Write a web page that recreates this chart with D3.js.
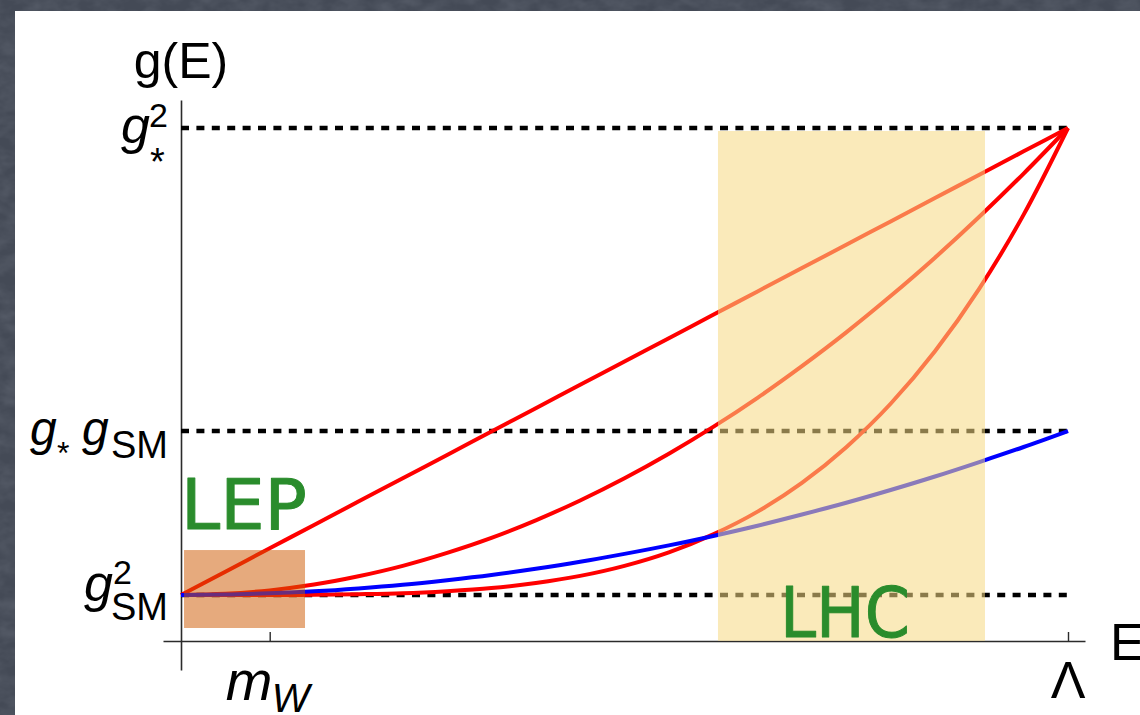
<!DOCTYPE html>
<html>
<head>
<meta charset="utf-8">
<script src="https://cdn.jsdelivr.net/npm/d3@7"></script>
<style>
  html, body { margin: 0; padding: 0; background: #474d58; overflow: hidden; }
  svg { display: block; }
</style>
</head>
<body>
<svg id="chart" width="1140" height="715"></svg>
<script>
// Energy in units of the cutoff Λ (m_W sits at 0.1 Λ)
const energy = [0, 0.05, 0.1, 0.15, 0.2, 0.25, 0.3, 0.35, 0.4, 0.45, 0.5,
                0.55, 0.6, 0.65, 0.7, 0.75, 0.8, 0.85, 0.9, 0.95, 1];

// Coupling strength g(E), in units where g_SM^2 = 1
const linearCoupling    = [1, 1.121, 1.242, 1.363, 1.484, 1.605, 1.726, 1.847, 1.968, 2.089, 2.21,
                           2.331, 2.452, 2.573, 2.694, 2.815, 2.936, 3.057, 3.178, 3.299, 3.42];
const quadraticCoupling = [1, 1.006, 1.024, 1.054, 1.097, 1.151, 1.218, 1.296, 1.387, 1.49, 1.605,
                           1.732, 1.871, 2.022, 2.186, 2.361, 2.549, 2.748, 2.96, 3.184, 3.42];
const quarticCoupling   = [1, 1.0, 1.0, 1.001, 1.004, 1.009, 1.02, 1.036, 1.062, 1.099, 1.151,
                           1.221, 1.314, 1.432, 1.581, 1.766, 1.991, 2.263, 2.588, 2.971, 3.42];
const smCoupling        = [1, 1.002, 1.009, 1.019, 1.034, 1.053, 1.077, 1.104, 1.136, 1.172, 1.213,
                           1.257, 1.306, 1.359, 1.417, 1.478, 1.544, 1.614, 1.689, 1.767, 1.85];

// Reference levels: g_*^2, g_* g_SM, g_SM^2
const yTicks = [3.42, 1.85, 1];
const xTicks = [0.1, 1];
const xTickLabels = ["m_W", "Λ"];

// Experimental reach (energy range, coupling range)
const lepBandE = [0.0034, 0.1398];
const lepBandG = [0.829, 1.233];
const lhcBandE = [0.6054, 0.9064];
const lhcBandG = [0.762, 3.4045];

const svg = d3.select("#chart");
const W = 1140, H = 715;

// --- slate backdrop with a faint grain, and the white slide panel ---
const defs = svg.append("defs");
const grain = defs.append("filter").attr("id", "grain")
  .attr("x", 0).attr("y", 0).attr("width", "100%").attr("height", "100%");
grain.append("feTurbulence").attr("type", "fractalNoise")
  .attr("baseFrequency", "0.05 0.08").attr("numOctaves", 3).attr("seed", 4);
grain.append("feColorMatrix").attr("type", "matrix")
  .attr("values", "0 0 0 0 0.6  0 0 0 0 0.64  0 0 0 0 0.72  0 0 0 0.2 -0.06");
svg.append("rect").attr("width", W).attr("height", H).attr("fill", "#444a56");
svg.append("rect").attr("width", W).attr("height", H).attr("filter", "url(#grain)");
svg.append("rect").attr("x", 15).attr("y", 11).attr("width", W - 15).attr("height", H - 11)
  .attr("fill", "#ffffff");

// --- scales ---
const x = d3.scaleLinear().domain([0, 1]).range([181, 1068]);
const y = d3.scaleLinear().domain([1, 3.42]).range([595, 128]);

const xAxisScale = d3.scaleLinear().domain([x.invert(163), x.invert(1085)]).range([163, 1085]);
const yAxisScale = d3.scaleLinear().domain([y.invert(670), y.invert(100)]).range([670, 100]);

const sans = "'Liberation Sans', Arial, Helvetica, sans-serif";

// --- axes ---
const xAxis = svg.append("g").attr("transform", "translate(0,641)")
  .call(d3.axisBottom(xAxisScale).tickValues(xTicks).tickSizeInner(-9).tickSizeOuter(0).tickFormat(""));
const yAxis = svg.append("g").attr("transform", "translate(181,0)")
  .call(d3.axisLeft(yAxisScale).tickValues(yTicks).tickSizeInner(-7).tickSizeOuter(0).tickFormat(""));
[xAxis, yAxis].forEach(a => {
  a.select(".domain").attr("stroke", "#2b2b2b").attr("stroke-width", 1.6);
  a.selectAll(".tick line").attr("stroke", "#2b2b2b").attr("stroke-width", 1.4);
});

// --- dotted reference levels ---
svg.append("g").selectAll("line").data(yTicks).join("line")
  .attr("x1", x(0)).attr("x2", x(1))
  .attr("y1", d => y(d)).attr("y2", d => y(d))
  .attr("stroke", "#000").attr("stroke-width", 4.5)
  .attr("stroke-dasharray", "8 7.4");

// --- coupling curves ---
const line = d3.line()
  .x((d, i) => x(energy[i]))
  .y(d => y(d))
  .curve(d3.curveMonotoneX);

const curves = [
  { values: linearCoupling, color: "#ff0000" },
  { values: quadraticCoupling, color: "#ff0000" },
  { values: quarticCoupling, color: "#ff0000" },
  { values: smCoupling, color: "#0000ff" }
];
svg.append("g").selectAll("path").data(curves).join("path")
  .attr("d", d => line(d.values))
  .attr("fill", "none")
  .attr("stroke", d => d.color)
  .attr("stroke-width", 4)
  .attr("stroke-linejoin", "round");

// --- experimental bands (translucent, over the curves) ---
svg.append("rect")
  .attr("x", x(lhcBandE[0])).attr("width", x(lhcBandE[1]) - x(lhcBandE[0]))
  .attr("y", y(lhcBandG[1])).attr("height", y(lhcBandG[0]) - y(lhcBandG[1]))
  .attr("fill", "rgb(246,218,132)").attr("fill-opacity", 0.56);
svg.append("rect")
  .attr("x", x(lepBandE[0])).attr("width", x(lepBandE[1]) - x(lepBandE[0]))
  .attr("y", y(lepBandG[1])).attr("height", y(lepBandG[0]) - y(lepBandG[1]))
  .attr("fill", "rgb(206,88,0)").attr("fill-opacity", 0.51);

// --- band names ---
const green = "#2a8c2c";
function bandName(txt, px, py, len) {
  svg.append("text").attr("x", px).attr("y", py)
    .attr("font-family", "'DejaVu Sans', sans-serif").attr("font-size", 70)
    .attr("textLength", len).attr("lengthAdjust", "spacingAndGlyphs")
    .attr("fill", green).attr("stroke", green).attr("stroke-width", 1)
    .attr("stroke-linejoin", "round")
    .text(txt);
}
bandName("LEP", 181, 529, 126);
bandName("LHC", 780, 637, 130);

// --- rich labels (italic symbols with sub/superscripts) ---
function richLabel(parts) {
  const t = svg.append("text").attr("font-family", sans).attr("fill", "#000");
  parts.forEach(p => {
    t.append("tspan").attr("x", p.x).attr("y", p.y)
      .attr("font-size", p.size)
      .attr("font-style", p.italic ? "italic" : "normal")
      .text(p.t);
  });
  return t;
}

const [tStar2, tStarSM, tSM2] = yTicks.map(v => y(v));

// g_*^2
richLabel([
  { t: "g", x: 121, y: tStar2 + 15, size: 52, italic: true },
  { t: "2", x: 149, y: tStar2 - 1, size: 34 },
  { t: "*", x: 150, y: tStar2 + 47, size: 38 }
]);
// g_* g_SM
richLabel([
  { t: "g", x: 30, y: tStarSM + 14, size: 48, italic: true },
  { t: "*", x: 57, y: tStarSM + 33, size: 32 },
  { t: "g", x: 82, y: tStarSM + 14, size: 48, italic: true },
  { t: "SM", x: 111, y: tStarSM + 27, size: 38 }
]);
// g_SM^2
richLabel([
  { t: "g", x: 84, y: tSM2 + 6, size: 52, italic: true },
  { t: "2", x: 113, y: tSM2 - 11, size: 34 },
  { t: "SM", x: 111, y: tSM2 + 25, size: 38 }
]);

// x tick labels: m_W and Λ
const xmw = x(xTicks[0]);
const [mSym, mSub] = xTickLabels[0].split("_");
richLabel([
  { t: mSym, x: xmw - 44, y: 700, size: 56, italic: true },
  { t: mSub, x: xmw + 2, y: 712, size: 40, italic: true }
]);
svg.append("text").attr("x", x(xTicks[1])).attr("y", 698)
  .attr("text-anchor", "middle").attr("font-family", sans).attr("font-size", 52)
  .text(xTickLabels[1]);

// axis titles
svg.append("text").attr("x", 1110).attr("y", 660)
  .attr("font-family", sans).attr("font-size", 52).text("E");
svg.append("text").attr("x", 181).attr("y", 78)
  .attr("text-anchor", "middle").attr("font-family", sans).attr("font-size", 50)
  .text("g(E)");
</script>
</body>
</html>
